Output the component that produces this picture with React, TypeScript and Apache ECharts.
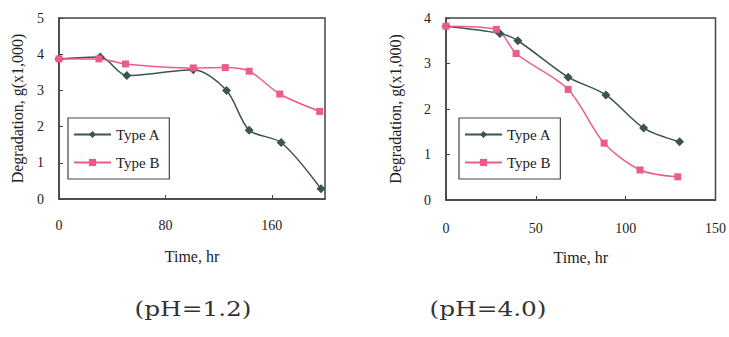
import React, { useEffect, useRef } from "react";
import * as echarts from "echarts";

// pH = 1.2
const leftTimeA = [0, 31, 51, 101, 126, 143, 167, 197];
const leftTypeA = [3.87, 3.92, 3.41, 3.57, 3.0, 1.9, 1.56, 0.28];
const leftTimeB = [0, 30, 50, 101, 125, 143, 166, 196];
const leftTypeB = [3.87, 3.87, 3.73, 3.62, 3.63, 3.53, 2.9, 2.42];
// pH = 4.0
const rightTimeA = [0, 30, 40, 68, 89, 110, 130];
const rightTypeA = [3.82, 3.66, 3.5, 2.7, 2.31, 1.58, 1.28];
const rightTimeB = [0, 28, 39, 68, 88, 108, 129];
const rightTypeB = [3.82, 3.75, 3.22, 2.43, 1.25, 0.66, 0.51];

const seriesNames = ["Type A", "Type B"];
const subtitles = ["(pH=1.2)", "(pH=4.0)"];
const yName = "Degradation, g(x1,000)";
const xName = "Time, hr";

const zip = (xs: number[], ys: number[]) => xs.map((x, i) => [x, ys[i]]);

const COLOR_A = "#3b5452";
const COLOR_B = "#ec5c88";
const SERIF = "'Liberation Serif', 'Times New Roman', serif";
const TEXT = "#222";

export default function App() {
  const ref = useRef<HTMLDivElement>(null);
  useEffect(() => {
    if (!ref.current) return;
    const chart = echarts.init(ref.current, undefined, { renderer: "svg" });
    const axisCommon = {
      axisLine: { show: true, lineStyle: { color: "#444", width: 1.5 } },
      axisTick: { show: true, inside: true, length: 4, lineStyle: { color: "#444" } },
      splitLine: { show: false },
      axisLabel: { color: TEXT, fontFamily: SERIF, fontSize: 14 },
      nameTextStyle: { color: TEXT, fontFamily: SERIF, fontSize: 16 },
    };
    const mkSeries = (name: string, data: number[][], idx: number, isA: boolean) => ({
      type: "line",
      name,
      xAxisIndex: idx,
      yAxisIndex: idx,
      data,
      smooth: 0.3,
      symbol: isA ? "diamond" : "rect",
      symbolSize: isA ? 9 : 7,
      itemStyle: { color: isA ? COLOR_A : COLOR_B },
      lineStyle: { color: isA ? COLOR_A : COLOR_B, width: 1.5 },
    });
    const mkLegend = (left: number, top: number) => ({
      show: true,
      data: seriesNames,
      orient: "vertical",
      left,
      top,
      itemWidth: 37,
      itemHeight: 9,
      itemGap: 13,
      padding: [9, 9, 9, 5],
      borderColor: "#444",
      borderWidth: 1.2,
      selectedMode: false,
      textStyle: { color: TEXT, fontFamily: SERIF, fontSize: 15 },
    });
    chart.setOption({
      animation: false,
      backgroundColor: "#fff",
      grid: [
        { left: 59, top: 18, width: 266, height: 181, show: true, borderColor: "#444", borderWidth: 1.5, backgroundColor: "transparent" },
        { left: 446, top: 18, width: 272, height: 182, show: true, borderColor: "#444", borderWidth: 1.5, backgroundColor: "transparent" },
      ],
      legend: [mkLegend(68, 118), mkLegend(459, 118)],
      xAxis: [
        {
          ...axisCommon,
          type: "value",
          gridIndex: 0,
          min: 0,
          max: 200,
          interval: 80,
          axisLabel: { ...axisCommon.axisLabel, margin: 19, showMaxLabel: false },
          name: xName,
          nameLocation: "middle",
          nameGap: 49,
        },
        {
          ...axisCommon,
          type: "value",
          gridIndex: 1,
          min: 0,
          max: 150,
          interval: 50,
          axisLabel: { ...axisCommon.axisLabel, margin: 21 },
          name: xName,
          nameLocation: "middle",
          nameGap: 49,
        },
      ],
      yAxis: [
        {
          ...axisCommon,
          type: "value",
          gridIndex: 0,
          min: 0,
          max: 5,
          interval: 1,
          axisLabel: { ...axisCommon.axisLabel, margin: 15 },
          name: yName,
          nameLocation: "middle",
          nameGap: 34,
        },
        {
          ...axisCommon,
          type: "value",
          gridIndex: 1,
          min: 0,
          max: 4,
          interval: 1,
          axisLabel: { ...axisCommon.axisLabel, margin: 15 },
          name: yName,
          nameLocation: "middle",
          nameGap: 43,
        },
      ],
      series: [
        mkSeries(seriesNames[0], zip(leftTimeA, leftTypeA), 0, true),
        mkSeries(seriesNames[1], zip(leftTimeB, leftTypeB), 0, false),
        mkSeries(seriesNames[0], zip(rightTimeA, rightTypeA), 1, true),
        mkSeries(seriesNames[1], zip(rightTimeB, rightTypeB), 1, false),
      ],
      graphic: [
        {
          type: "text",
          x: 193,
          y: 309,
          scaleX: 1.18,
          style: { text: subtitles[0], fill: "#333", font: "21px 'DejaVu Serif', serif", textAlign: "center", textVerticalAlign: "middle" },
        },
        {
          type: "text",
          x: 488,
          y: 309,
          scaleX: 1.18,
          style: { text: subtitles[1], fill: "#333", font: "21px 'DejaVu Serif', serif", textAlign: "center", textVerticalAlign: "middle" },
        },
      ],
    });
    return () => chart.dispose();
  }, []);
  return <div ref={ref} style={{ width: 729, height: 337, position: "absolute", left: 0, top: 0 }} />;
}
